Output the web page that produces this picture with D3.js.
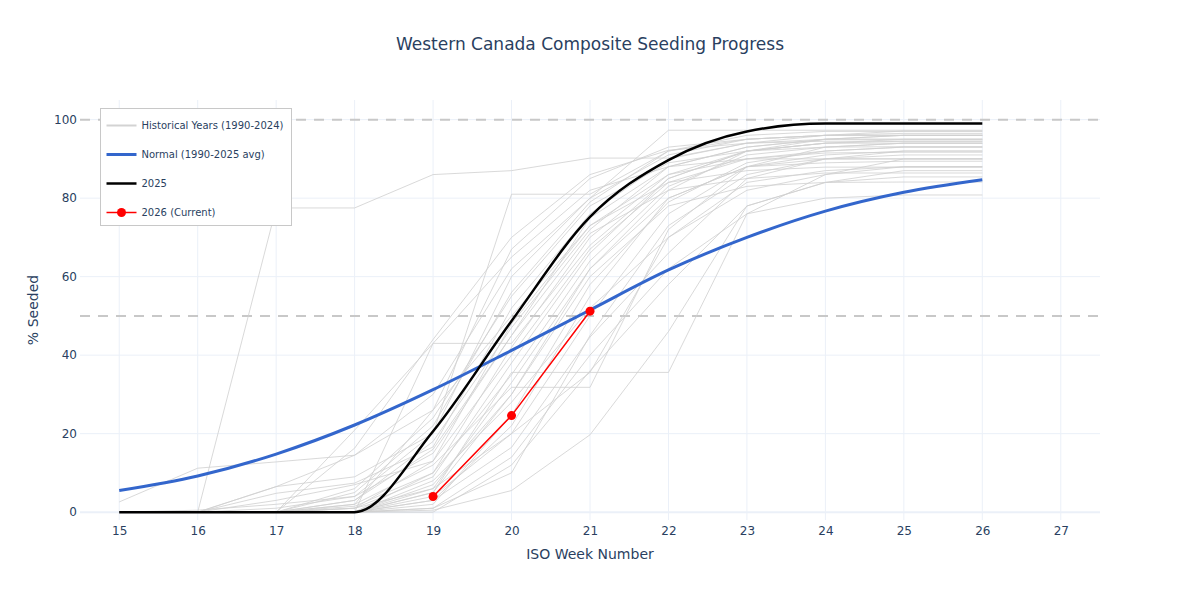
<!DOCTYPE html>
<html>
<head>
<meta charset="utf-8">
<script src="https://cdn.jsdelivr.net/npm/d3@7"></script>
<style>
  body { margin: 0; background: #fff; }
  text { font-family: "DejaVu Sans", Verdana, sans-serif; }
</style>
</head>
<body>
<svg id="chart"></svg>
<script>
// Weeks shown on the x axis
const weeks = [15, 16, 17, 18, 19, 20, 21, 22, 23, 24, 25, 26];
const tickWeeks = [15, 16, 17, 18, 19, 20, 21, 22, 23, 24, 25, 26, 27];
const yTicks = [0, 20, 40, 60, 80, 100];

// Historical years 1990-2024, cumulative % seeded per week
const historical = [
  [0, 0, 0, 0, 5, 30, 62, 82, 92, 95, 96, 96],
  [0, 0, 0, 3, 18, 47, 72, 88, 93, 95, 95, 95],
  [0, 0, 77.5, 77.5, 86, 87, 90.2, 90.2, 94, 96, 97.1, 97.1],
  [2.6, 11.2, 12.8, 14.5, 26, 50, 73, 86, 92, 94, 94.5, 94.5],
  [0, 0, 0, 1, 6, 20, 35.6, 35.6, 76, 86, 90, 90],
  [0, 0, 0, 0, 43, 43, 68, 85, 92, 94, 95, 95],
  [0, 0, 0, 2, 12, 31.8, 31.8, 72, 88, 93, 94, 94],
  [0, 0, 6.5, 9, 20, 81, 81, 92, 95, 96, 96, 96],
  [0, 0, 0, 0, 0.5, 5.5, 19.7, 46, 78, 84, 87, 87],
  [0, 0, 0, 0, 1, 10, 45, 73, 86, 90, 91, 91],
  [0, 0, 4.8, 7.4, 16.6, 52, 76, 90, 94, 95, 95, 95],
  [0, 0, 0, 0, 3, 16.5, 44.6, 66, 85, 90, 92, 92],
  [0, 0, 0, 1.5, 10, 35, 64, 83, 91, 93, 94, 94],
  [0, 0, 0, 5, 22, 56, 79, 92, 96, 97, 97, 97],
  [0, 0, 3, 7, 13, 40, 67, 84, 90, 92, 93, 93],
  [0, 0, 0, 0, 2, 24.7, 58, 79, 89, 92, 93, 93],
  [0, 0, 0, 0, 8, 28, 52, 70, 82, 86, 88, 88],
  [0, 0, 0, 3, 16, 45, 75, 88, 93, 95, 96, 96],
  [0, 0, 0, 0, 4, 20, 50, 76, 88, 91, 92, 92],
  [0, 0, 0, 1, 9, 38, 66, 85, 92, 94, 94, 94],
  [0, 0, 1, 4, 20, 60, 80, 91, 95, 96, 96.5, 96.5],
  [0, 0, 0, 0, 1, 14, 40, 62, 76, 80, 80.8, 80.8],
  [0, 0, 0, 2, 26, 67, 85, 93, 95, 96, 96, 96],
  [0, 0, 0, 0, 6, 33, 62, 80, 88, 90, 90, 90],
  [0, 0, 0, 0, 0, 12, 36, 58, 78, 84, 85.4, 85.4],
  [0, 0, 0, 6, 24, 55, 78, 89, 92, 93, 93.1, 93.1],
  [0, 0, 0, 0, 3, 22, 55, 80, 88, 89, 89.4, 89.4],
  [0, 0, 0, 16.3, 44, 70, 86, 92.2, 94, 94.5, 94.5, 94.5],
  [0, 0, 0, 0, 5, 35.6, 35.6, 70, 84, 87, 88, 88],
  [0, 0, 0, 0, 10, 42, 70, 86, 90, 91.5, 91.7, 91.7],
  [0, 0, 0, 1, 13, 48, 73, 84, 87, 87.9, 87.9, 87.9],
  [0, 0.5, 2, 4, 15, 45, 71, 82, 85, 86.4, 86.4, 86.4],
  [0, 0, 0, 0, 7, 30, 60, 78, 83, 84, 84.1, 84.1],
  [0, 0, 0, 20.9, 43, 65, 82, 88, 90, 90, 90, 90],
  [0, 0, 6.5, 14.5, 30, 62, 80, 97.3, 97.3, 97.3, 97.3, 97.3]
];

// Normal (1990-2025 average)
const normalValues = [5.5, 9.2, 14.8, 22.2, 31.2, 41.2, 51.5, 61.7, 70, 76.7, 81.5, 84.7];

// 2025 season
const values2025 = [0, 0, 0, 0, 20.6, 48.7, 75.2, 89.7, 97, 99, 99, 99];

// 2026 (current) weeks reported so far
const weeks2026 = [19, 20, 21];
const values2026 = [4.0, 24.6, 51.2];

// Reference lines
const refLines = [50, 100];

// Legend entries
const legendItems = [
  { label: "Historical Years (1990-2024)", color: "#d3d3d3", width: 2, marker: false },
  { label: "Normal (1990-2025 avg)", color: "#3366cc", width: 3, marker: false },
  { label: "2025", color: "#000", width: 2.5, marker: false },
  { label: "2026 (Current)", color: "red", width: 1.5, marker: true }
];

const width = 1180, height = 600;
const margin = { top: 100, right: 80, bottom: 80, left: 80 };
const innerW = width - margin.left - margin.right;
const innerH = height - margin.top - margin.bottom;
const textColor = "#2a3f5f";
const gridColor = "#ebf0f8";

const svg = d3.select("#chart")
  .attr("width", width)
  .attr("height", height);

const g = svg.append("g")
  .attr("transform", "translate(" + margin.left + "," + margin.top + ")");

const x = d3.scaleLinear().domain([14.5, 27.5]).range([0, innerW]);
const y = d3.scaleLinear().domain([-2, 105]).range([innerH, 0]);

// Grid lines
g.append("g")
  .selectAll("line")
  .data(tickWeeks)
  .enter().append("line")
  .attr("x1", d => x(d)).attr("x2", d => x(d))
  .attr("y1", 0).attr("y2", innerH)
  .attr("stroke", gridColor).attr("stroke-width", 1);

g.append("g")
  .selectAll("line")
  .data(yTicks)
  .enter().append("line")
  .attr("x1", 0).attr("x2", innerW)
  .attr("y1", d => y(d)).attr("y2", d => y(d))
  .attr("stroke", gridColor)
  .attr("stroke-width", d => d === 0 ? 2 : 1);

// Axes (labels only, plotly style)
const xAxis = g.append("g")
  .attr("transform", "translate(0," + innerH + ")")
  .call(d3.axisBottom(x).tickValues(tickWeeks).tickSize(0).tickPadding(6).tickFormat(d3.format("d")));
xAxis.select(".domain").remove();
xAxis.selectAll("text").attr("fill", textColor).style("font-size", "12px");

const yAxis = g.append("g")
  .call(d3.axisLeft(y).tickValues(yTicks).tickSize(0).tickPadding(3));
yAxis.select(".domain").remove();
yAxis.selectAll("text").attr("fill", textColor).style("font-size", "12px");

// Dashed reference lines
g.append("g")
  .selectAll("line")
  .data(refLines)
  .enter().append("line")
  .attr("x1", 0).attr("x2", innerW)
  .attr("y1", d => y(d)).attr("y2", d => y(d))
  .attr("stroke", "#c8c8c8")
  .attr("stroke-width", 2)
  .attr("stroke-dasharray", "10,8");

// Historical years
const straight = d3.line()
  .x(d => x(d[0]))
  .y(d => y(d[1]));

g.append("g")
  .selectAll("path")
  .data(historical)
  .enter().append("path")
  .attr("d", d => straight(weeks.map((w, i) => [w, d[i]])))
  .attr("fill", "none")
  .attr("stroke", "#d0d0d0")
  .attr("stroke-opacity", 0.8)
  .attr("stroke-width", 1);

// Smooth lines for normal and 2025
const smooth = d3.line()
  .x(d => x(d[0]))
  .y(d => y(d[1]))
  .curve(d3.curveMonotoneX);

g.append("path")
  .attr("d", smooth(weeks.map((w, i) => [w, normalValues[i]])))
  .attr("fill", "none")
  .attr("stroke", "#3366cc")
  .attr("stroke-width", 3);

g.append("path")
  .attr("d", smooth(weeks.map((w, i) => [w, values2025[i]])))
  .attr("fill", "none")
  .attr("stroke", "#000")
  .attr("stroke-width", 2.5);

// 2026 current
const current = weeks2026.map((w, i) => [w, values2026[i]]);
g.append("path")
  .attr("d", straight(current))
  .attr("fill", "none")
  .attr("stroke", "red")
  .attr("stroke-width", 1.5);

g.selectAll(".pt")
  .data(current)
  .enter().append("circle")
  .attr("class", "pt")
  .attr("cx", d => x(d[0]))
  .attr("cy", d => y(d[1]))
  .attr("r", 4.5)
  .attr("fill", "red");

// Title
svg.append("text")
  .attr("x", width / 2)
  .attr("y", 50)
  .attr("text-anchor", "middle")
  .attr("fill", textColor)
  .style("font-size", "17px")
  .text("Western Canada Composite Seeding Progress");

// Axis titles
svg.append("text")
  .attr("x", margin.left + innerW / 2)
  .attr("y", 559)
  .attr("text-anchor", "middle")
  .attr("fill", textColor)
  .style("font-size", "14px")
  .text("ISO Week Number");

svg.append("text")
  .attr("transform", "rotate(-90)")
  .attr("x", -310)
  .attr("y", 38)
  .attr("text-anchor", "middle")
  .attr("fill", textColor)
  .style("font-size", "14px")
  .text("% Seeded");

// Legend
const legend = svg.append("g")
  .attr("transform", "translate(100.5,108.5)");

legend.append("rect")
  .attr("width", 191)
  .attr("height", 117)
  .attr("fill", "#fff")
  .attr("stroke", "#c8c8c8")
  .attr("stroke-width", 1);

const items = legend.selectAll(".item")
  .data(legendItems)
  .enter().append("g")
  .attr("class", "item")
  .attr("transform", (d, i) => "translate(0," + (17 + i * 29) + ")");

items.append("line")
  .attr("x1", 6).attr("x2", 36)
  .attr("stroke", d => d.color)
  .attr("stroke-width", d => d.width);

items.filter(d => d.marker).append("circle")
  .attr("cx", 21)
  .attr("r", 4.5)
  .attr("fill", d => d.color);

items.append("text")
  .attr("x", 41)
  .attr("dy", "0.35em")
  .attr("fill", textColor)
  .style("font-size", "10px")
  .text(d => d.label);
</script>
</body>
</html>
